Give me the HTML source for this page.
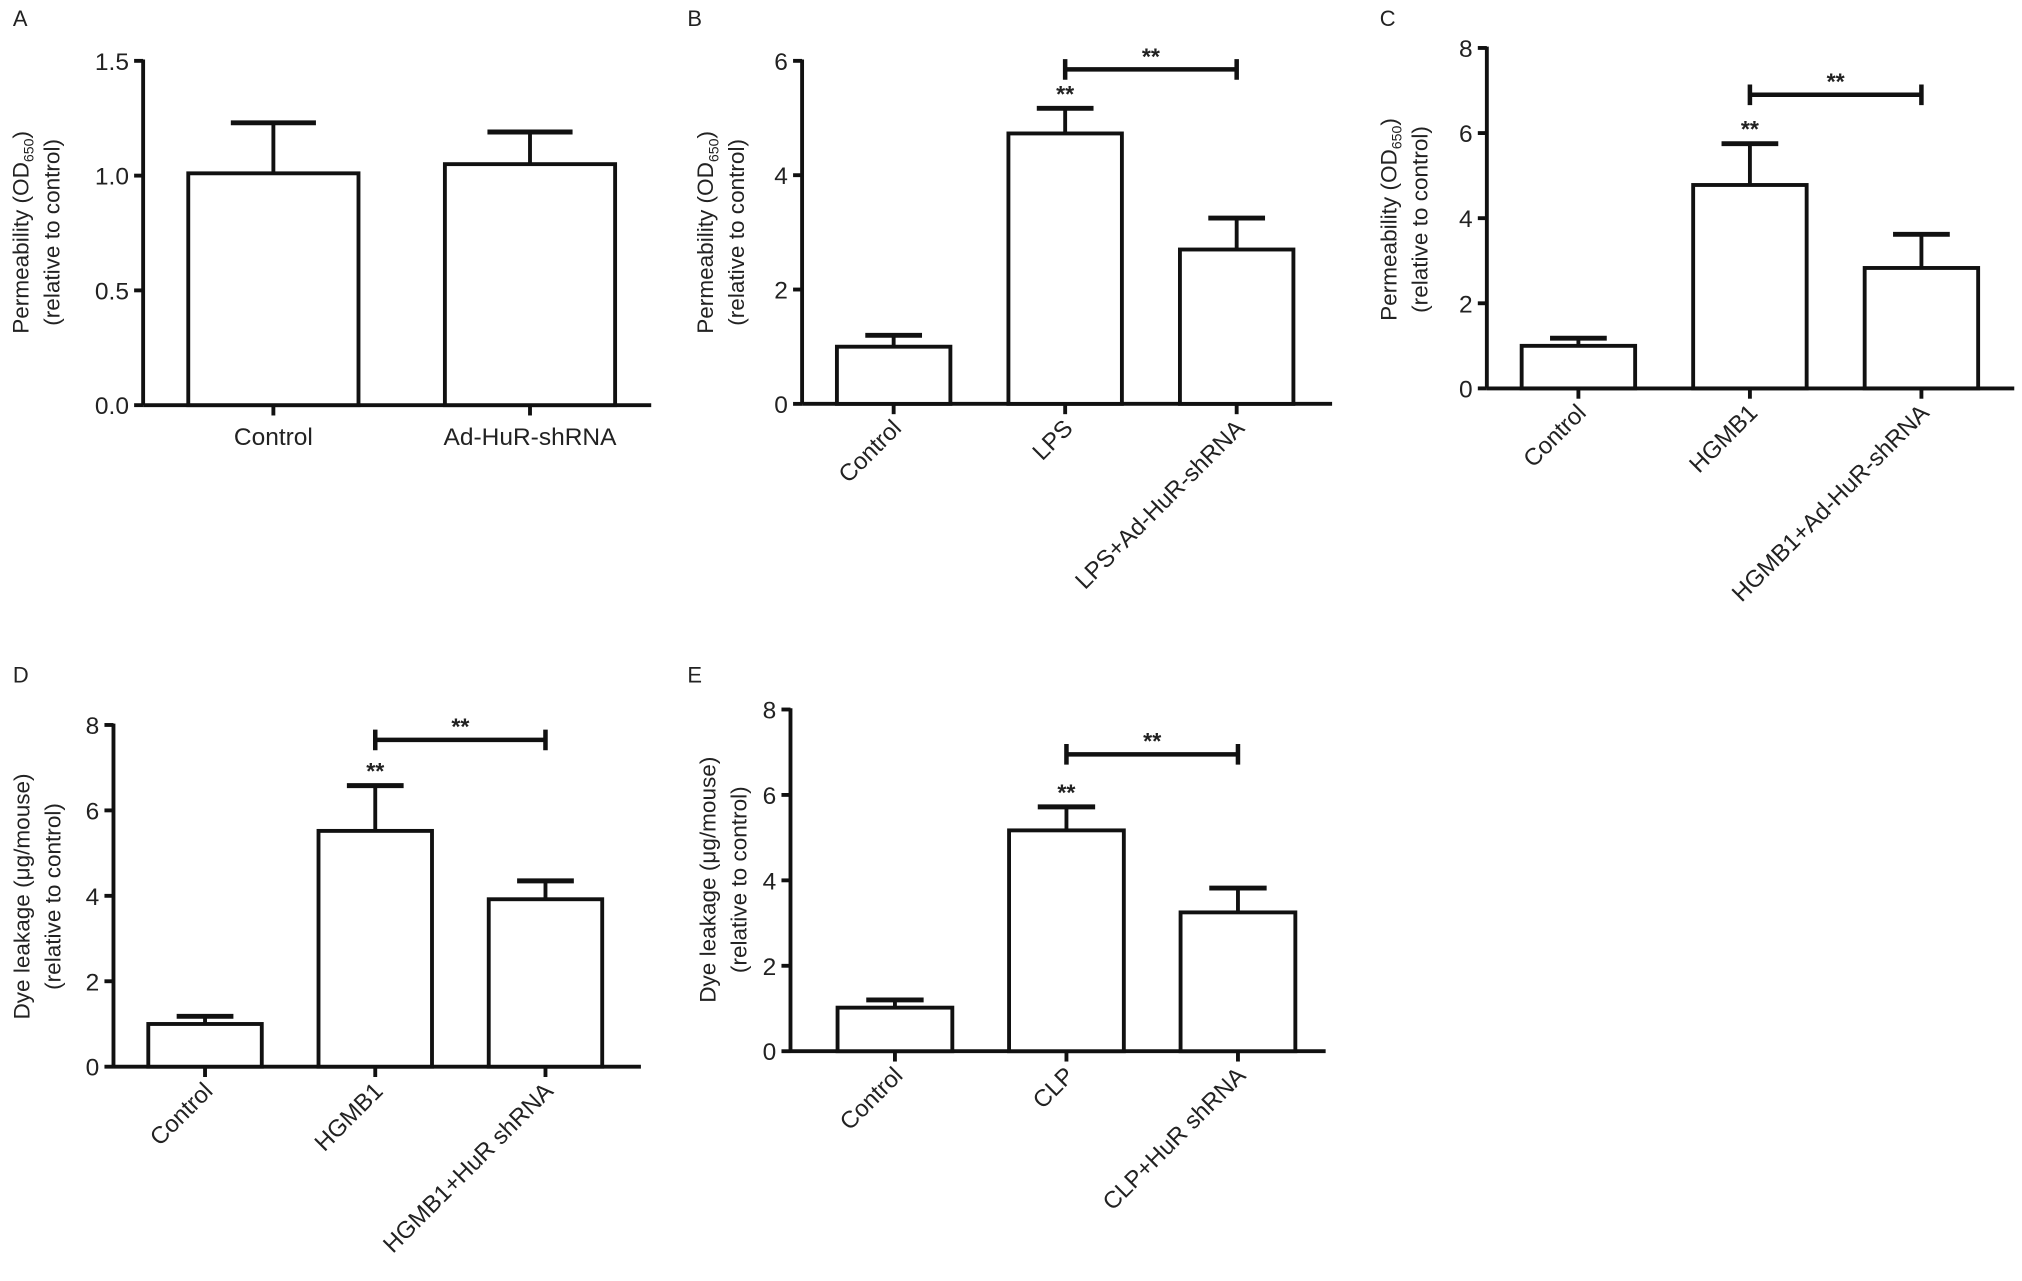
<!DOCTYPE html>
<html><head><meta charset="utf-8">
<style>
html,body{margin:0;padding:0;background:#fff;}
svg{display:block;}
text{font-family:"Liberation Sans",Arial,sans-serif;fill:#222;}
</style></head>
<body>
<svg id="fig" width="2022" height="1281" viewBox="0 0 1568 993" xmlns="http://www.w3.org/2000/svg"></svg>
<script>
// ---- Data ----
const catsA = ["Control","Ad-HuR-shRNA"];
const valsA = [1.01, 1.05];
const errA = [1.23, 1.19];
const ticksA = ["0.0","0.5","1.0","1.5"];

const catsB = ["Control","LPS","LPS+Ad-HuR-shRNA"];
const valsB = [1.0, 4.73, 2.7];
const errB = [1.2, 5.17, 3.25];
const ticksB = ["0","2","4","6"];

const catsC = ["Control","HGMB1","HGMB1+Ad-HuR-shRNA"];
const valsC = [1.0, 4.78, 2.83];
const errC = [1.18, 5.75, 3.62];
const ticksC = ["0","2","4","6","8"];

const catsD = ["Control","HGMB1","HGMB1+HuR shRNA"];
const valsD = [1.0, 5.52, 3.92];
const errD = [1.18, 6.58, 4.35];
const ticksD = ["0","2","4","6","8"];

const catsE = ["Control","CLP","CLP+HuR shRNA"];
const valsE = [1.02, 5.17, 3.25];
const errE = [1.2, 5.72, 3.82];
const ticksE = ["0","2","4","6","8"];

const NS = "http://www.w3.org/2000/svg";
const svg = document.getElementById("fig");
function mk(tag, attrs, parent, txt){
  const e = document.createElementNS(NS, tag);
  for (const k in attrs) e.setAttribute(k, attrs[k]);
  if (txt !== undefined) e.textContent = txt;
  (parent || svg).appendChild(e);
  return e;
}
const SW = 3;

function panel(o){
  const g = mk("g", {});
  
  
  const ymax = parseFloat(o.ticks[o.ticks.length-1]);
  const y = v => o.y0 - (v / ymax) * (o.y0 - o.ytop);
  const x = i => o.first + i * o.step;
  const L = mk("text", {x:o.lx, y:o.ly, "font-size":17}, g, o.letter);
  
  
  const ya = mk("line", {x1:o.ax, y1:o.ytop-1, x2:o.ax, y2:o.y0, stroke:"#111","stroke-width":SW}, g);
  
  
  o.ticks.forEach(t => {
    const v = parseFloat(t);
    mk("line", {x1:o.ax-7, y1:y(v), x2:o.ax, y2:y(v), stroke:"#111","stroke-width":SW}, g);
    const tl = mk("text", {x:o.ax-11, y:y(v)+7, "font-size":19, "text-anchor":"end"}, g, t);
    
    
  });
  const xa = mk("line", {x1:o.ax, y1:o.y0, x2:o.xend, y2:o.y0, stroke:"#111","stroke-width":SW}, g);
  
  
  const tg = mk("text", {transform:`translate(${o.tx},${o.ty}) rotate(-90)`, "font-size":17.5, "text-anchor":"middle"}, g);
  
  
  if (o.sub) {
    mk("tspan", {x:0, y:0}, tg, o.title1);
    mk("tspan", {"font-size":11, dy:4}, tg, "650");
    mk("tspan", {dy:-4}, tg, ")");
  } else {
    mk("tspan", {x:0, y:0}, tg, o.title1);
  }
  mk("tspan", {x:0, y:24}, tg, "(relative to control)");
  o.cats.forEach((c, i) => {
    const cx = x(i);
    const hw = o.bw / 2;
    const bar = mk("rect", {x:cx-hw, y:y(o.vals[i]), width:o.bw, height:o.y0-y(o.vals[i]), fill:"#fff", stroke:"#111", "stroke-width":SW}, g);
    
    
    const eb = mk("line", {x1:cx, y1:y(o.vals[i]), x2:cx, y2:y(o.err[i]), stroke:"#111","stroke-width":SW}, g);
    
    
    mk("line", {x1:cx-hw/2, y1:y(o.err[i]), x2:cx+hw/2, y2:y(o.err[i]), stroke:"#111","stroke-width":SW+0.8}, g);
    mk("line", {x1:cx, y1:o.y0, x2:cx, y2:o.y0+8, stroke:"#111","stroke-width":SW}, g);
    let lab;
    if (o.rot) {
      lab = mk("text", {transform:`translate(${cx+7},${o.y0+20}) rotate(-45)`, "font-size":18.5, "text-anchor":"end"}, g, c);
    } else {
      lab = mk("text", {x:cx, y:o.y0+31, "font-size":19, "text-anchor":"middle"}, g, c);
    }
    
    
  });
  if (o.sig) {
    const s1 = mk("text", {x:x(1), y:y(o.err[1])-5, "font-size":18, "text-anchor":"middle", "font-weight":"bold"}, g, "**");
    
    
    const by = y(o.brk);
    const br = mk("path", {d:`M${x(1)},${by-8}V${by+8}M${x(1)},${by}H${x(2)}M${x(2)},${by-8}V${by+8}`, stroke:"#111","stroke-width":SW+0.5, fill:"none"}, g);
    
    
    const s2 = mk("text", {x:(x(1)+x(2))/2, y:by-4, "font-size":18, "text-anchor":"middle", "font-weight":"bold"}, g, "**");
    
    
  }
}

panel({letter:"A", lx:10, ly:20, ax:111, ytop:47, y0:314, xend:505, first:212, step:199, bw:132,
  cats:catsA, vals:valsA, err:errA, ticks:ticksA, rot:false, sig:false,
  tx:22, ty:180, title1:"Permeability (OD", sub:true});
panel({letter:"B", lx:533, ly:20, ax:622, ytop:47, y0:313, xend:1033, first:693, step:133, bw:88,
  cats:catsB, vals:valsB, err:errB, ticks:ticksB, rot:true, sig:true, brk:5.85,
  tx:553, ty:180, title1:"Permeability (OD", sub:true});
panel({letter:"C", lx:1070, ly:20, ax:1153, ytop:37, y0:301, xend:1562, first:1224, step:133, bw:88,
  cats:catsC, vals:valsC, err:errC, ticks:ticksC, rot:true, sig:true, brk:6.9,
  tx:1083, ty:170, title1:"Permeability (OD", sub:true});
panel({letter:"D", lx:10, ly:529, ax:88, ytop:562, y0:827, xend:497, first:159, step:132, bw:88,
  cats:catsD, vals:valsD, err:errD, ticks:ticksD, rot:true, sig:true, brk:7.65,
  tx:23, ty:695, title1:"Dye leakage (μg/mouse)", sub:false});
panel({letter:"E", lx:533, ly:529, ax:613, ytop:550, y0:815, xend:1028, first:694, step:133, bw:89,
  cats:catsE, vals:valsE, err:errE, ticks:ticksE, rot:true, sig:true, brk:6.95,
  tx:555, ty:682, title1:"Dye leakage (μg/mouse)", sub:false});
</script>
</body></html>
